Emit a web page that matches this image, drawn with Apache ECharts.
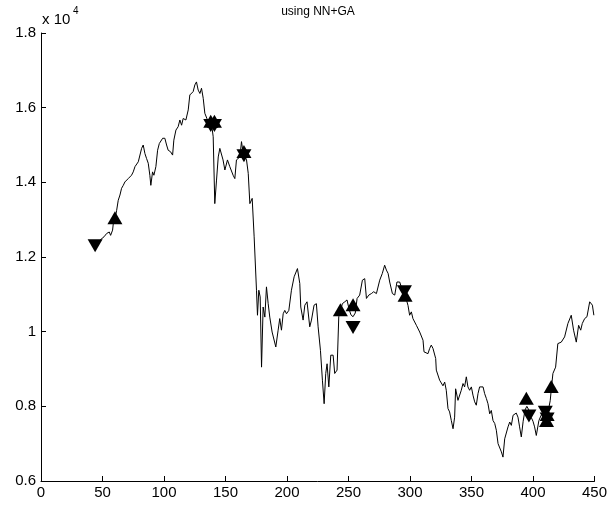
<!DOCTYPE html>
<html>
<head>
<meta charset="utf-8">
<script src="https://cdn.jsdelivr.net/npm/echarts@6/dist/echarts.min.js"></script>
<style>
html, body { margin: 0; padding: 0; background: #fff; }
#chart { width: 610px; height: 510px; }
</style>
</head>
<body>
<div id="chart"></div>
<script>
// Price series (trading day index, closing price)
const days = [45,47.9,49.5,51.2,53.4,55.5,56.6,58.2,58.8,60.1,
  61.5,62.8,64.2,65.5,66.9,68.2,69.6,70.9,72.3,73.6,
  75,76.4,77.7,79.1,80.4,81.8,83.1,84.5,85.8,87.2,
  88.5,89.3,90.7,91.8,93.4,94.8,96.2,97.5,98.9,100.7,
  102.1,103.4,105.3,107,108,109.7,111.5,112.9,114.3,115.6,
  117.8,119.7,121,122.4,123.7,125.1,126.4,127.8,129.2,130.5,
  131.9,133.2,135,136.8,138.6,140,141.3,142.7,144.1,145.4,
  146.8,148,149.5,151.6,153.5,156.2,157.6,158.9,160.3,161.7,
  163,164.4,165.8,167.1,168.5,169.8,171.7,173.3,175.2,176,
  177.1,178.2,179.3,180.6,182,183.3,184.7,186,187.9,189.5,
  190.9,192.8,194.1,195.5,196.9,198.2,199.6,201.5,203.6,205.8,
  207.2,208.5,210.4,211.2,213.1,214.5,216.3,218.5,219.9,222,
  223.9,225.3,227.2,228.8,230.2,231.5,232.6,234,235.6,237.5,
  238.8,240.7,242.1,243.4,245,247,248.8,250.5,252,253.7,
  255.5,257,259.1,261.3,263.2,264.6,266.5,268.6,270.5,272.7,
  274,275.4,277.5,279.4,280.8,282.2,283.5,285.7,287.6,289.4,
  291.6,293.5,295.7,298.4,299.7,301.1,302.4,303.8,305.2,306.5,
  307.9,309.2,310.6,311.4,312.7,314.6,316,317.3,318.7,320.1,
  320.9,321.4,322.8,324.1,325.5,326.8,328.2,329.5,330.9,332.2,
  333.6,335,336.3,337.1,338.2,339,340.4,341.7,343.1,344.4,
  345.8,347.1,348.5,349.9,351.2,352.6,353.9,355.3,356.6,358,
  359.4,360.7,362.1,363.4,364.8,366.1,367.5,368.9,370.2,371.6,
  372.9,374.3,375.6,377,378.3,379.7,381.1,382.4,383.8,385.1,
  386.4,387.8,389.1,390.5,392,393.5,395,396.7,398.6,400,
  401.3,402.7,404.8,406.5,408,409.4,410.8,412.5,414,415,
  416.2,418.4,420.2,423,425.7,428.4,431.1,433,435.2,437.1,
  438.8,440.1,442,443.9,446.1,448.3,449.5];

const price = [12360,12450,12500,12540,12630,12670,12580,12720,12900,12990,
  13250,13520,13660,13840,13920,14010,14060,14100,14150,14190,
  14280,14420,14460,14550,14510,14910,15000,14770,14640,14510,
  14190,13920,14280,14190,14420,14860,15040,15090,15180,15180,
  15000,14860,14820,14730,15130,15400,15490,15670,15530,15710,
  15670,15940,16340,16290,16430,16610,16690,16470,16380,16520,
  16250,15850,15700,15620,15580,15220,13430,14060,14680,14910,
  14860,14600,14330,14600,14420,14190,14100,14600,14620,14680,
  15090,14770,14700,14600,14240,13430,13570,12540,11110,10440,
  11110,10930,9050,10660,10390,11200,10750,10390,9990,9950,
  9590,10040,10350,10040,10480,10570,10480,10570,11110,11470,
  11470,11690,11290,10660,10310,10710,10800,10130,10310,10710,
  10750,10130,9500,8700,8070,8880,9140,8520,9370,9370,
  8880,8970,10400,10530,10750,10800,10850,10600,10450,10400,
  10500,10890,10980,11380,11420,10890,10980,11020,11070,11020,
  11070,11380,11560,11780,11650,11560,11330,11020,10980,11330,
  11330,11150,11020,10700,10440,10530,10350,10400,10170,10130,
  9990,10040,9770,9460,9500,9410,9550,9640,9550,9500,
  9280,8970,8920,8700,8750,8550,8650,8430,7940,7850,
  7620,7400,7710,8470,8520,8160,8210,8430,8610,8520,
  8790,8520,8430,8520,8300,8120,8030,8340,8520,8560,
  8520,8340,8210,8070,7800,7890,7620,7540,7360,7000,
  6950,6780,6640,7130,7180,7450,7580,7490,7760,7800,
  7820,7710,7450,7180,7600,7900,8000,7900,7700,7600,
  7450,7220,7620,7750,7850,7800,7700,7900,8150,8500,
  8880,9050,9680,9720,9860,10220,10440,10040,9720,10170,
  10040,10220,10350,10400,10800,10710,10440];

// Buy signals (up triangles)
const buyDays  = [60.1, 138, 141, 165, 243.4, 253.7, 296, 394.6, 411.5, 411, 414.8];
const buyPrice = [12990, 15580, 15580, 14770, 10530, 10660, 10920, 8160, 7720, 7560, 8470];

// Sell signals (down triangles)
const sellDays  = [44, 138, 141, 165, 253.7, 295.5, 396.7, 410, 411.5];
const sellPrice = [12360, 15580, 15580, 14770, 10170, 11130, 7800, 7900, 7720];

// Axis ranges and tick spacing
const xMin = 0, xMax = 450, xStep = 50;
const yMin = 6000, yMax = 18000, yStep = 2000;
const yScale = 10000;

const titleText = 'using NN+GA';
const font = 'Arial, "Liberation Sans", sans-serif';

const zip = (a, b) => a.map((v, i) => [v, b[i]]);

// Equilateral triangle markers, centred on their centroid
const markW = 15, markH = 13;
const centroidShift = markH / 6;

const chart = echarts.init(document.getElementById('chart'), null, { renderer: 'canvas' });

const axisCommon = {
  axisLine: { show: true, onZero: false, lineStyle: { color: '#000', width: 1 } },
  axisTick: { show: true, inside: true, length: 5, lineStyle: { color: '#000', width: 1 } },
  splitLine: { show: false },
  axisLabel: { color: '#000', fontSize: 15, fontFamily: font }
};

chart.setOption({
  animation: false,
  backgroundColor: '#fff',
  grid: { left: 41, right: 15, top: 33, bottom: 29, containLabel: false },
  xAxis: Object.assign({}, axisCommon, {
    type: 'value', min: xMin, max: xMax, interval: xStep,
    axisLabel: Object.assign({}, axisCommon.axisLabel, { margin: 4 })
  }),
  yAxis: Object.assign({}, axisCommon, {
    type: 'value', min: yMin, max: yMax, interval: yStep,
    axisLabel: Object.assign({}, axisCommon.axisLabel, {
      margin: 5,
      formatter: v => String(Math.round(v / yScale * 10) / 10)
    })
  }),
  graphic: [
    { type: 'text', x: 318, y: 12, style: { text: titleText, font: '12px ' + font, fill: '#000', textAlign: 'center', textVerticalAlign: 'middle' } },
    { type: 'text', x: 42, y: 12, style: { text: 'x 10', font: '15px ' + font, fill: '#000' } },
    { type: 'text', x: 73, y: 6, style: { text: '4', font: '10px ' + font, fill: '#000' } }
  ],
  series: [
    {
      type: 'line',
      data: zip(days, price),
      showSymbol: false,
      lineStyle: { color: '#000', width: 1 },
      z: 2
    },
    {
      type: 'scatter',
      data: zip(buyDays, buyPrice),
      symbol: 'triangle',
      symbolSize: [markW, markH],
      symbolOffset: [0, -centroidShift],
      itemStyle: { color: '#000', opacity: 1 },
      z: 3
    },
    {
      type: 'scatter',
      data: zip(sellDays, sellPrice),
      symbol: 'triangle',
      symbolRotate: 180,
      symbolSize: [markW, markH],
      symbolOffset: [0, centroidShift],
      itemStyle: { color: '#000', opacity: 1 },
      z: 3
    }
  ]
});
</script>
</body>
</html>
